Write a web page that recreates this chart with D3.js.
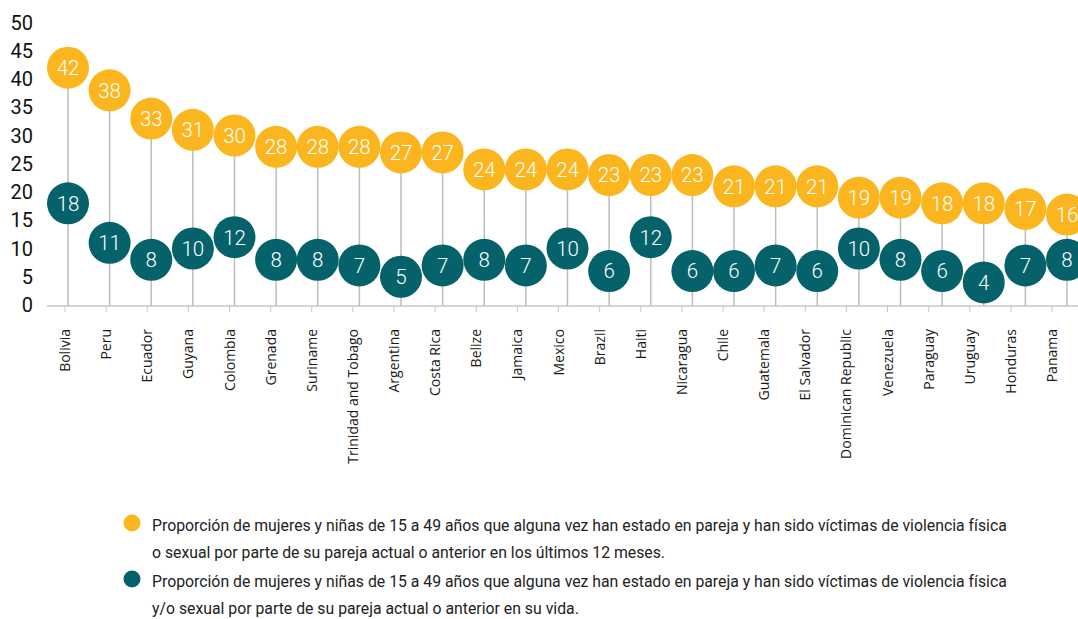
<!DOCTYPE html>
<html>
<head>
<meta charset="utf-8">
<script src="https://cdn.jsdelivr.net/npm/d3@7"></script>
<style>
  body { margin: 0; background: #fff; }
  svg { display: block; }
  .ytick { font: 20px Roboto, sans-serif; fill: #111; }
  .cat { font: 14px "Open Sans", sans-serif; fill: #1a1a1a; }
  .val { font: 300 20.5px Roboto, sans-serif; fill: #fff; }
  .leg { font: 15.8px Roboto, sans-serif; fill: #222; }
</style>
</head>
<body>
<svg id="chart" width="1078" height="619"></svg>
<script>
// values
const countries = ['Bolivia', 'Peru', 'Ecuador', 'Guyana', 'Colombia', 'Grenada', 'Suriname',
  'Trinidad and Tobago', 'Argentina', 'Costa Rica', 'Belize', 'Jamaica', 'Mexico', 'Brazil',
  'Haiti', 'Nicaragua', 'Chile', 'Guatemala', 'El Salvador', 'Dominican Republic', 'Venezuela',
  'Paraguay', 'Uruguay', 'Honduras', 'Panama'];
const last12 = [42, 38, 33, 31, 30, 28, 28, 28, 27, 27, 24, 24, 24, 23, 23, 23, 21, 21, 21, 19, 19, 18, 18, 17, 16];
const lifetime = [18, 11, 8, 10, 12, 8, 8, 7, 5, 7, 8, 7, 10, 6, 12, 6, 6, 7, 6, 10, 8, 6, 4, 7, 8];
const yTicks = [0, 5, 10, 15, 20, 25, 30, 35, 40, 45, 50];
const legendLines = [
  ['Proporción de mujeres y niñas de 15 a 49 años que alguna vez han estado en pareja y han sido víctimas de violencia física',
   'o sexual por parte de su pareja actual o anterior en los últimos 12 meses.'],
  ['Proporción de mujeres y niñas de 15 a 49 años que alguna vez han estado en pareja y han sido víctimas de violencia física',
   'y/o sexual por parte de su pareja actual o anterior en su vida.']
];

const YELLOW = '#FBB61F', TEAL = '#05626A';
const svg = d3.select('#chart');
const y = d3.scaleLinear().domain([0, 50]).range([305, 22.5]);
const xDot = d3.scalePoint().domain(countries).range([68, 1067]);
const xAxis = d3.scalePoint().domain(countries).range([65, 1052]);
const R = 21;

// axis line + ticks
svg.append('line').attr('x1', 47).attr('x2', 1078).attr('y1', y(0) + 1).attr('y2', y(0) + 1)
  .attr('stroke', '#c8c8c8').attr('stroke-width', 1.5);
svg.append('g').selectAll('line').data(countries).join('line')
  .attr('x1', d => xAxis(d)).attr('x2', d => xAxis(d))
  .attr('y1', y(0) + 1).attr('y2', y(0) + 7).attr('stroke', '#c8c8c8');

// y tick labels
svg.append('g').selectAll('text').data(yTicks).join('text')
  .attr('class', 'ytick').attr('x', 33).attr('y', d => y(d)).attr('dy', '0.36em')
  .attr('text-anchor', 'end').text(d => d);

// stems
svg.append('g').selectAll('line').data(countries).join('line')
  .attr('x1', d => xDot(d)).attr('x2', d => xDot(d))
  .attr('y1', (d, i) => y(last12[i])).attr('y2', y(0) + 1)
  .attr('stroke', '#bdbdbd').attr('stroke-width', 1.5);

// dots
function dots(vals, color) {
  const g = svg.append('g');
  g.selectAll('circle').data(countries).join('circle')
    .attr('cx', d => xDot(d)).attr('cy', (d, i) => y(vals[i])).attr('r', R).attr('fill', color);
  g.selectAll('text').data(countries).join('text')
    .attr('class', 'val').attr('x', d => xDot(d)).attr('y', (d, i) => y(vals[i]))
    .attr('dy', '0.36em').attr('text-anchor', 'middle').text((d, i) => vals[i]);
}
dots(last12, YELLOW);
dots(lifetime, TEAL);

// category labels
svg.append('g').selectAll('text').data(countries).join('text')
  .attr('class', 'cat')
  .attr('transform', d => `translate(${xAxis(d) + 5},329) rotate(-90)`)
  .attr('text-anchor', 'end').text(d => d);

// legend
const leg = svg.append('g');
legendLines.forEach((lines, k) => {
  const top = 525 + k * 56;
  leg.append('circle').attr('cx', 132).attr('cy', top - 2).attr('r', 8.5).attr('fill', k ? TEAL : YELLOW);
  lines.forEach((t, j) => {
    leg.append('text').attr('class', 'leg').attr('x', 152).attr('y', top + j * 27.5)
      .attr('dy', '0.36em').text(t);
  });
});
</script>
</body>
</html>
